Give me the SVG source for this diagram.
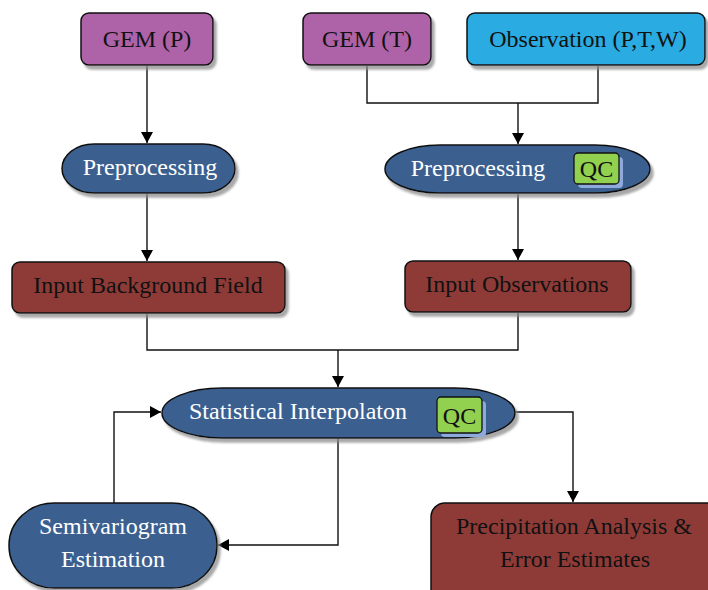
<svg xmlns="http://www.w3.org/2000/svg" width="708" height="590" viewBox="0 0 708 590">
<defs>
<filter id="sh" x="-10%" y="-20%" width="130%" height="150%">
<feGaussianBlur in="SourceAlpha" stdDeviation="1.2"/>
<feOffset dx="3" dy="4" result="b"/>
<feFlood flood-color="#8c8c8c" flood-opacity="0.75"/>
<feComposite in2="b" operator="in"/>
<feMerge><feMergeNode/><feMergeNode in="SourceGraphic"/></feMerge>
</filter>
<marker id="ah" markerUnits="userSpaceOnUse" markerWidth="12" markerHeight="12" refX="11" refY="6" orient="auto">
<path d="M0,0 L11,6 L0,12 z" fill="#000"/>
</marker>
</defs>
<style>
.box{stroke:#111;stroke-width:1.5;filter:url(#sh)}
.purple{fill:#AE62A8}
.cyan{fill:#29ABE2}
.navy{fill:#3A6190}
.red{fill:#8E3A38}
.qc{fill:#92D050;stroke:#111;stroke-width:1.3}
.qcs{fill:#8EA9DB}
text{font-family:"Liberation Serif","Times New Roman",serif;font-size:24px;text-anchor:middle}
.w{fill:#fff}
.k{fill:#111}
.con{fill:none;stroke:#111;stroke-width:1.4}
</style>
<g id="connectors">
<path class="con" d="M147,66 V143" marker-end="url(#ah)"/>
<path class="con" d="M367,66 V103 H598 V66"/>
<path class="con" d="M518,103 V144" marker-end="url(#ah)"/>
<path class="con" d="M147,194 V261" marker-end="url(#ah)"/>
<path class="con" d="M518,194 V260" marker-end="url(#ah)"/>
<path class="con" d="M147,314 V350 H518 V313"/>
<path class="con" d="M338,350 V387" marker-end="url(#ah)"/>
<path class="con" d="M515,412 H573 V502" marker-end="url(#ah)"/>
<path class="con" d="M338,438 V545 H218" marker-end="url(#ah)"/>
<path class="con" d="M114,503 V412 H161" marker-end="url(#ah)"/>
</g>
<g id="gem-p">
<rect class="box purple" x="81" y="13" width="132" height="52" rx="8"/>
<text class="k" x="147" y="47">GEM (P)</text>
</g>
<g id="gem-t">
<rect class="box purple" x="303" y="13" width="128" height="52" rx="8"/>
<text class="k" x="367" y="47">GEM (T)</text>
</g>
<g id="observation">
<rect class="box cyan" x="467" y="13" width="238" height="52" rx="8"/>
<text class="k" x="588" y="47">Observation (P,T,W)</text>
</g>
<g id="preprocessing-left">
<rect class="box navy" x="62" y="144" width="173" height="49" rx="32" ry="24.5"/>
<text class="w" x="150" y="175">Preprocessing</text>
</g>
<g id="preprocessing-right">
<rect class="box navy" x="385" y="145" width="265" height="48" rx="55" ry="24"/>
<text class="w" x="478" y="176">Preprocessing</text>
<rect class="qcs" x="578" y="157" width="45" height="31" rx="4"/>
<rect class="qc" x="574" y="153" width="45" height="31" rx="4"/>
<text class="k" x="596.5" y="177">QC</text>
</g>
<g id="input-background-field">
<rect class="box red" x="12" y="262" width="273" height="51" rx="8"/>
<text class="k" x="148" y="293">Input Background Field</text>
</g>
<g id="input-observations">
<rect class="box red" x="405" y="261" width="226" height="51" rx="8"/>
<text class="k" x="517" y="292">Input Observations</text>
</g>
<g id="statistical-interpolation">
<rect class="box navy" x="162" y="388" width="353" height="50" rx="60" ry="25"/>
<text class="w" x="298" y="419">Statistical Interpolaton</text>
<rect class="qcs" x="441" y="401" width="45" height="36" rx="4"/>
<rect class="qc" x="437" y="397" width="45" height="36" rx="4"/>
<text class="k" x="459.5" y="424">QC</text>
</g>
<g id="semivariogram">
<rect class="box navy" x="9" y="503" width="208" height="85" rx="45" ry="42"/>
<text class="w" x="113" y="534">Semivariogram</text>
<text class="w" x="113" y="567">Estimation</text>
</g>
<g id="precipitation-analysis">
<rect class="box red" x="431" y="503" width="290" height="100" rx="14"/>
<text class="k" x="574" y="534">Precipitation Analysis &amp;</text>
<text class="k" x="575" y="567">Error Estimates</text>
</g>
</svg>
